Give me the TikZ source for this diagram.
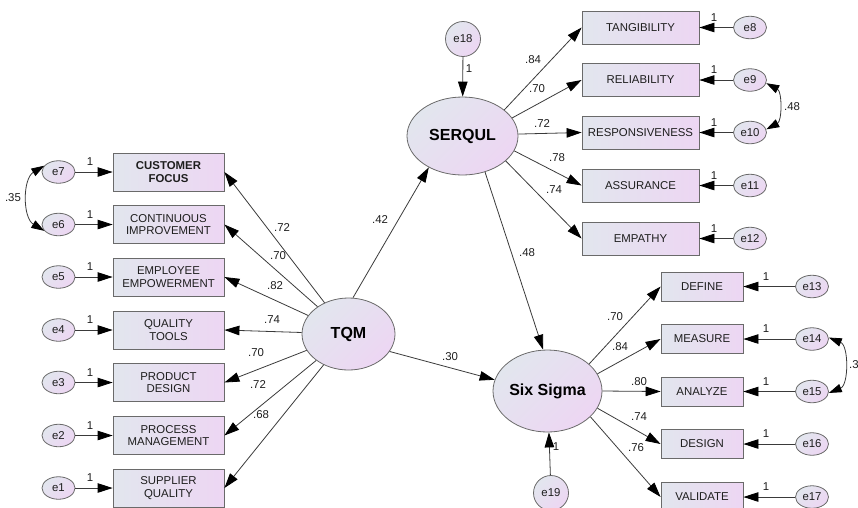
\documentclass[tikz,border=0pt]{standalone}
\usepackage{fontspec}
\setmainfont{Liberation Sans}
\usetikzlibrary{shapes.geometric,arrows.meta}
\definecolor{cA}{HTML}{E2E6EE}
\definecolor{cB}{HTML}{EDD6F3}
\definecolor{bd}{HTML}{6A6A6A}
\definecolor{ln}{HTML}{3A3A3A}
\definecolor{tx}{HTML}{1E1E1E}
\newcommand\fsA{\fontsize{11.4}{12.6}\selectfont}
\newcommand\fsB{\fontsize{16}{18}\selectfont\bfseries}
\begin{document}
\begin{tikzpicture}[x=1pt,y=-1pt,
 ind/.style={draw=bd, line width=0.8pt, left color=cA, right color=cB, inner sep=0pt, align=center, font=\fsA, text=tx},
 indL/.style={ind, minimum width=111pt, minimum height=38pt},
 indT/.style={ind, minimum width=117pt, minimum height=33pt},
 indB/.style={ind, minimum width=82pt, minimum height=29pt},
 err/.style={ellipse, draw=bd, line width=0.8pt, top color=cA, bottom color=cB, shading angle=45, inner sep=0pt, minimum width=33pt, minimum height=22.5pt, font=\fsA, text=tx},
 errc/.style={circle, draw=bd, line width=0.8pt, top color=cA, bottom color=cB, shading angle=45, inner sep=0pt, minimum size=35pt, font=\fsA, text=tx},
 lat/.style={ellipse, draw=bd, line width=0.8pt, top color=cA, bottom color=cB, shading angle=45, inner sep=0pt, font=\fsB, text=black},
 arr/.style={draw=ln, line width=0.8pt, -{Triangle[length=15pt,width=9.5pt,color=black]}},
 cov/.style={draw=ln, line width=0.8pt, {Triangle[length=13pt,width=8.5pt,color=black]}-{Triangle[length=13pt,width=8.5pt,color=black]}},
 lbl/.style={font=\fsA, text=tx, inner sep=0pt}
]
\useasboundingbox (0,0) rectangle (858,507);
\clip (0,0) rectangle (858,507);

% latent variables
\node[lat, minimum width=93pt, minimum height=72pt] (tqm) at (348.5,334) {TQM};
\node[lat, minimum width=111pt, minimum height=78pt] (serqul) at (462.5,136) {SERQUL};
\node[lat, minimum width=109pt, minimum height=82pt] (six) at (547.5,391) {Six Sigma};
\node[errc] (e18) at (463,39) {e18};
\node[errc] (e19) at (551,493) {e19};

% left indicators
\node[indL, font=\fsA\bfseries] (cf) at (168.5,172) {CUSTOMER\\FOCUS};
\node[indL] (ci) at (168.5,224.5) {CONTINUOUS\\IMPROVEMENT};
\node[indL] (ee) at (168.5,277) {EMPLOYEE\\EMPOWERMENT};
\node[indL] (qt) at (168.5,330) {QUALITY\\TOOLS};
\node[indL] (pd) at (168.5,382.5) {PRODUCT\\DESIGN};
\node[indL] (pm) at (168.5,435.5) {PROCESS\\MANAGEMENT};
\node[indL] (sq) at (168.5,488) {SUPPLIER\\QUALITY};
\node[err] (e7) at (58.5,172) {e7};
\node[err] (e6) at (58.5,224.5) {e6};
\node[err] (e5) at (58.5,277) {e5};
\node[err] (e4) at (58.5,330) {e4};
\node[err] (e3) at (58.5,382.5) {e3};
\node[err] (e2) at (58.5,435.5) {e2};
\node[err] (e1) at (58.5,488) {e1};

% right top indicators
\node[indT] (tg) at (640.5,27.5) {TANGIBILITY};
\node[indT] (rl) at (640.5,80) {RELIABILITY};
\node[indT] (rs) at (640.5,132.5) {RESPONSIVENESS};
\node[indT] (as) at (640.5,185.5) {ASSURANCE};
\node[indT] (em) at (640.5,238.5) {EMPATHY};
\node[err] (e8) at (750,27.5) {e8};
\node[err] (e9) at (750,80) {e9};
\node[err] (e10) at (750,132.5) {e10};
\node[err] (e11) at (750,185.5) {e11};
\node[err] (e12) at (750,238.5) {e12};

% right bottom indicators
\node[indB] (df) at (702,286.5) {DEFINE};
\node[indB] (ms) at (702,339) {MEASURE};
\node[indB] (an) at (702,391.5) {ANALYZE};
\node[indB] (dg) at (702,444) {DESIGN};
\node[indB] (vl) at (702,497) {VALIDATE};
\node[err] (e13) at (812,286.5) {e13};
\node[err] (e14) at (812,339) {e14};
\node[err] (e15) at (812,391.5) {e15};
\node[err] (e16) at (812,444) {e16};
\node[err] (e17) at (812,497) {e17};

% error arrows
\foreach \e/\b in {e7/cf,e6/ci,e5/ee,e4/qt,e3/pd,e2/pm,e1/sq,e8/tg,e9/rl,e10/rs,e11/as,e12/em,e13/df,e14/ms,e15/an,e16/dg,e17/vl}
  \draw[arr] (\e) -- (\b);
\draw[arr] (e18) -- (serqul);
\draw[arr] (e19) -- (six);

% covariances
\draw[cov] (e7.156) to[bend right=59] (e6.204);
\draw[cov] (e9.-11) to[bend left=62] (e10.11);
\draw[cov] (e14.5) to[bend left=68] (e15.-5);

% loadings
\foreach \b in {cf,ci,ee,qt,pd,pm,sq}
  \draw[arr] (tqm) -- (\b.east);
\draw[arr] (tqm.83) -- (serqul.-137);
\draw[arr] (tqm.-23) -- (six.168);
\draw[arr] (serqul.32) -- (tg.west);
\draw[arr] (serqul.20) -- (rl.west);
\draw[arr] (serqul.2) -- (rs.west);
\draw[arr] (serqul.-16) -- (as.west);
\draw[arr] (serqul.-30) -- (em.west);
\draw[arr] (serqul.-58) -- (six.96);
\draw[arr] (six.33) -- (df.west);
\draw[arr] (six.19) -- (ms.west);
\draw[arr] (six.0) -- (an.west);
\draw[arr] (six.-19) -- (dg.west);
\draw[arr] (six.-31) -- (vl.west);

% labels "1"
\foreach \y [count=\i] in {172,224.5,277,330,382.5,435.5,488}
  \node[lbl] (oL\i) at (90,\y-10) {1};
\foreach \y [count=\i] in {27.5,80,132.5,185.5,238.5}
  \node[lbl] (oT\i) at (714,\y-10) {1};
\foreach \y [count=\i] in {286.5,339,391.5,444,497}
  \node[lbl] (oB\i) at (766,\y-10) {1};
\node[lbl] (o18) at (469,69) {1};
\node[lbl] (o19) at (556,447) {1};

% coefficient labels
\node[lbl] (c35) at (13,198) {.35};
\node[lbl] (l1) at (282,228) {.72};
\node[lbl] (l2) at (278,256) {.70};
\node[lbl] (l3) at (275,286) {.82};
\node[lbl] (l4) at (272,319.5) {.74};
\node[lbl] (l5) at (256,353) {.70};
\node[lbl] (l6) at (258,385) {.72};
\node[lbl] (l7) at (261,415) {.68};
\node[lbl] (l42) at (380,220) {.42};
\node[lbl] (l30) at (450,357) {.30};
\node[lbl] (l48) at (527,253) {.48};
\node[lbl] (s1) at (533,60) {.84};
\node[lbl] (s2) at (537,89) {.70};
\node[lbl] (s3) at (542,124) {.72};
\node[lbl] (s4) at (557,158) {.78};
\node[lbl] (s5) at (554,190) {.74};
\node[lbl] (c48) at (792,107) {.48};
\node[lbl] (g1) at (615,316.7) {.70};
\node[lbl] (g2) at (620,347) {.84};
\node[lbl] (g3) at (639,381.7) {.80};
\node[lbl] (g4) at (639,416.7) {.74};
\node[lbl] (g5) at (636,448) {.76};
\node[lbl, anchor=west] (c3) at (849,365) {.3};
\end{tikzpicture}
\end{document}
